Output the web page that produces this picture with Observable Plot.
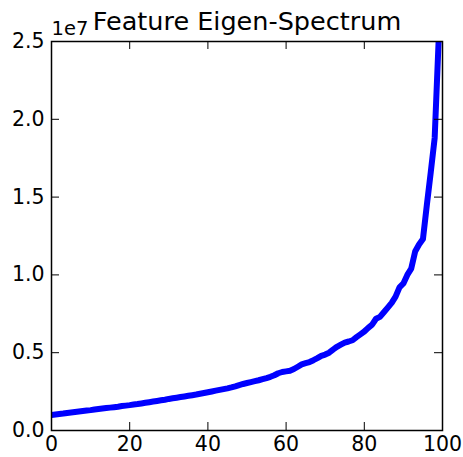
<!DOCTYPE html>
<html>
<head>
<meta charset="utf-8">
<script src="https://cdn.jsdelivr.net/npm/d3@7"></script>
<script src="https://cdn.jsdelivr.net/npm/@observablehq/plot@0.6"></script>
<style>
  html, body { margin: 0; padding: 0; background: #fff; }
  #chart svg { display: block; }
</style>
</head>
<body>
<div id="chart"></div>
<script>
const title = "Feature Eigen-Spectrum";
const offsetLabel = "1e7";
const xTicks = [0, 20, 40, 60, 80, 100];
const yTicks = [0.0, 0.5, 1.0, 1.5, 2.0, 2.5];
// eigenvalues in units of 1e7, sorted ascending, component index 0..99
const eigenvalues = [
  0.100, 0.103, 0.106, 0.109, 0.113, 0.116, 0.119, 0.122, 0.125, 0.128,
  0.131, 0.135, 0.138, 0.141, 0.144, 0.147, 0.150, 0.153, 0.157, 0.160,
  0.163, 0.167, 0.170, 0.174, 0.178, 0.182, 0.186, 0.190, 0.194, 0.198,
  0.203, 0.207, 0.211, 0.215, 0.219, 0.223, 0.227, 0.231, 0.236, 0.241,
  0.246, 0.251, 0.256, 0.261, 0.266, 0.271, 0.277, 0.284, 0.292, 0.299,
  0.305, 0.311, 0.317, 0.323, 0.330, 0.337, 0.345, 0.355, 0.368, 0.376,
  0.380, 0.384, 0.395, 0.410, 0.425, 0.433, 0.440, 0.452, 0.465, 0.480,
  0.488, 0.500, 0.520, 0.538, 0.552, 0.565, 0.572, 0.580, 0.600, 0.618,
  0.636, 0.660, 0.680, 0.718, 0.730, 0.760, 0.790, 0.820, 0.860, 0.920,
  0.945, 1.000, 1.040, 1.150, 1.195, 1.230, 1.450, 1.660, 1.880, 2.500
];
const components = d3.range(eigenvalues.length);
const rows = components.map((i) => ({i, v: eigenvalues[i]}));

const W = 463, H = 457;
const mTop = 41, mBottom = 27, mLeft = 51, mRight = 21;
const frameH = H - mTop - mBottom;
const frameW = W - mLeft - mRight;
const tick = 8;

const chart = Plot.plot({
  width: W,
  height: H,
  marginTop: mTop,
  marginBottom: mBottom,
  marginLeft: mLeft,
  marginRight: mRight,
  style: {fontFamily: "'DejaVu Sans', sans-serif", fontSize: "21px", color: "black", background: "white", overflow: "visible"},
  x: {domain: [0, 100]},
  y: {domain: [0, 2.5]},
  marks: [
    Plot.line(rows, {x: "i", y: "v", stroke: "#0000ff", strokeWidth: 6, strokeLinejoin: "round", strokeLinecap: "butt", clip: true}),
    // inward ticks on all four sides
    Plot.tickX(xTicks, {x: (d) => d, insetTop: frameH - tick, stroke: "black", strokeWidth: 1}),
    Plot.tickX(xTicks, {x: (d) => d, insetBottom: frameH - tick, stroke: "black", strokeWidth: 1}),
    Plot.tickY(yTicks, {y: (d) => d, insetRight: frameW - tick, stroke: "black", strokeWidth: 1}),
    Plot.tickY(yTicks, {y: (d) => d, insetLeft: frameW - tick, stroke: "black", strokeWidth: 1}),
    Plot.axisX(xTicks, {tickSize: 0, tickPadding: 6, label: null, fontSize: 20.5}),
    Plot.axisY(yTicks, {tickSize: 0, tickPadding: 7, label: null, fontSize: 20.5, tickFormat: (d) => d.toFixed(1)}),
    Plot.frame({stroke: "black", strokeWidth: 1.5}),
    Plot.text([title], {text: (d) => d, frameAnchor: "top", lineAnchor: "bottom", dy: -12, fontSize: 25.5, fill: "black"}),
    Plot.text([offsetLabel], {text: (d) => d, frameAnchor: "top-left", textAnchor: "start", lineAnchor: "bottom", dy: -7, fontSize: 19.5, fill: "black"})
  ]
});
document.getElementById("chart").appendChild(chart);
</script>
</body>
</html>
